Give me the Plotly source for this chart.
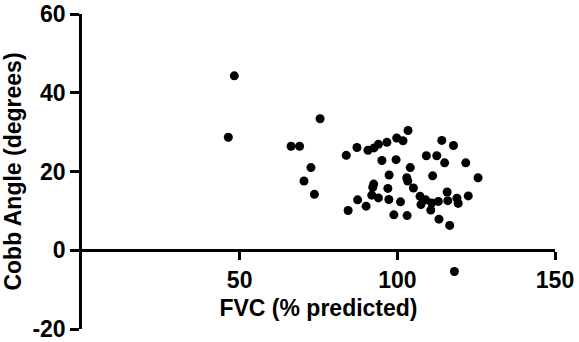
import plotly.graph_objects as go

# FVC (% predicted) vs Cobb angle (degrees)
fvc = [48.3, 46.4, 75.5, 66.3, 69.0, 72.6, 70.4, 73.7, 83.8, 84.4,
       87.2, 87.4, 90.1, 90.7, 92.6, 94.0, 96.7, 95.1, 92.5, 92.2,
       91.9, 94.0, 97.4, 97.0, 97.3, 98.9, 99.8, 101.8, 103.4, 99.6,
       104.1, 103.0, 103.3, 105.1, 101.0, 103.1, 109.2, 112.5, 114.1, 117.8,
       111.2, 115.0, 121.7, 125.6, 107.2, 107.5, 109.0, 110.9, 110.6, 113.0,
       115.8, 116.0, 118.9, 119.3, 122.5, 113.2, 116.6, 118.1]
cobb = [44.3, 28.7, 33.4, 26.4, 26.4, 21.0, 17.6, 14.2, 24.1, 10.1,
        26.1, 12.8, 11.2, 25.4, 26.0, 26.9, 27.4, 22.8, 16.8, 16.0,
        14.0, 13.3, 19.1, 15.7, 12.9, 9.0, 28.5, 27.8, 30.4, 23.0,
        21.0, 18.4, 17.6, 15.8, 12.3, 8.8, 24.0, 24.0, 27.9, 26.6,
        18.9, 22.2, 22.2, 18.4, 13.7, 11.6, 12.8, 12.0, 10.2, 12.4,
        14.8, 12.6, 13.2, 11.9, 13.8, 7.9, 6.3, -5.4]

x_ticks = [50, 100, 150]
y_ticks = [-20, 0, 20, 40, 60]

FONT = "Liberation Sans"

fig = go.Figure(
    go.Scatter(
        x=fvc, y=cobb, mode="markers",
        marker=dict(size=9, color="black", line=dict(width=0)),
        hoverinfo="x+y",
    )
)

fig.update_layout(
    width=579, height=342,
    margin=dict(l=82, r=24, t=14, b=13),
    paper_bgcolor="white", plot_bgcolor="white",
    showlegend=False,
    font=dict(family=FONT, color="black"),
)

fig.update_xaxes(
    range=[0, 150],
    tickvals=x_ticks,
    ticktext=[str(v) for v in x_ticks],
    showgrid=False, zeroline=False,
    showline=True, linecolor="black", linewidth=2.5,
    ticks="outside", ticklen=8, tickwidth=2.5, tickcolor="black",
    tickfont=dict(family=FONT, size=23, weight="bold", color="black"),
    ticklabeloverflow="allow",
    anchor="free", position=0.25,
    automargin=False,
    title=dict(text="FVC (% predicted)",
               font=dict(family=FONT, size=23, weight="bold", color="black"),
               standoff=8),
)

fig.update_yaxes(
    range=[-20, 60],
    tickvals=y_ticks,
    ticktext=[str(v) for v in y_ticks],
    showgrid=False, zeroline=False,
    showline=True, linecolor="black", linewidth=2.5,
    ticks="outside", ticklen=9, tickwidth=2.5, tickcolor="black",
    tickfont=dict(family=FONT, size=23, weight="bold", color="black"),
    ticklabeloverflow="allow",
    automargin=False,
    title=dict(text="Cobb Angle (degrees)",
               font=dict(family=FONT, size=23, weight="bold", color="black"),
               standoff=16),
)

fig.write_html("out.html", config={"displayModeBar": False},
               post_script="document.body.style.margin='0';")
